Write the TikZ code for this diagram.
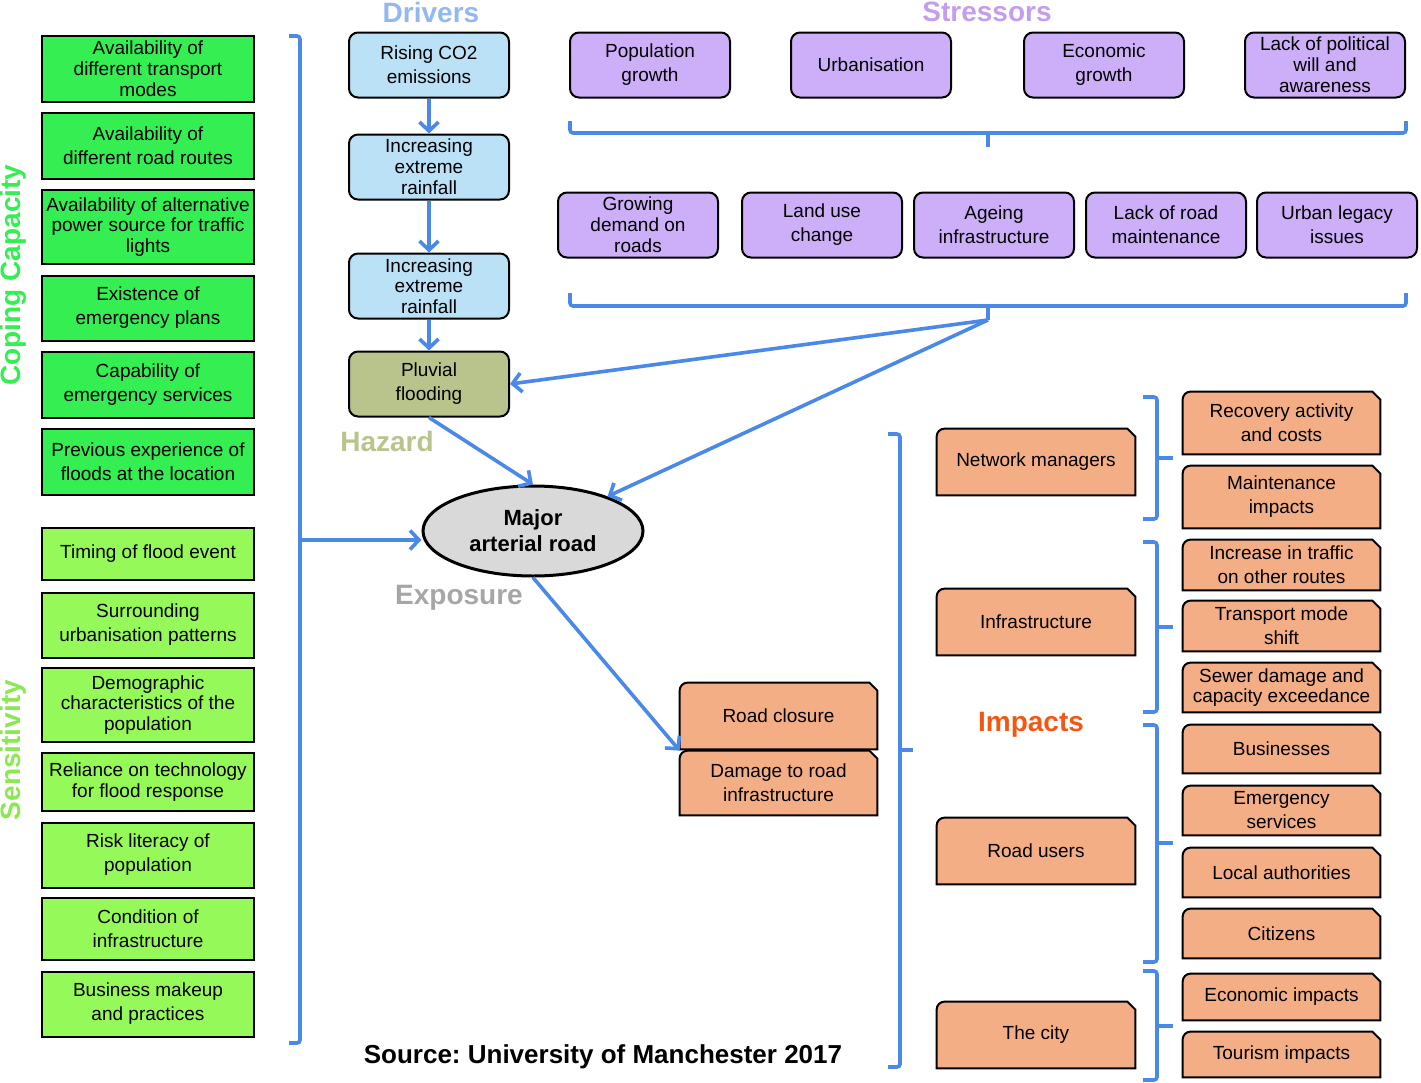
\documentclass[tikz,border=0pt]{standalone}
\usepackage{fontspec}
\setmainfont{Liberation Sans}
\usetikzlibrary{arrows.meta, shapes.geometric, backgrounds}

\definecolor{copegreen}{HTML}{35EE52}
\definecolor{sensgreen}{HTML}{96F95A}
\definecolor{drvblue}{HTML}{BBE1F7}
\definecolor{hazfill}{HTML}{B8C48C}
\definecolor{strviolet}{HTML}{CCAEF9}
\definecolor{impfill}{HTML}{F4AE85}
\definecolor{linkblue}{HTML}{4A89E8}

\begin{document}
\begin{tikzpicture}[x=0.5pt, y=-0.5pt, >={Straight Barb[length=4.5pt, width=9.5pt]},
  font=\fontsize{9.5}{12}\selectfont,
  copebox/.style={draw, line width=1pt, fill=copegreen, minimum width=106pt, align=center, inner sep=0.5pt},
  sensbox/.style={copebox, fill=sensgreen},
  drvbox/.style={draw, line width=1pt, rounded corners=4.5pt, fill=drvblue, minimum width=80pt, minimum height=32.5pt, align=center, inner sep=0.5pt},
  strbox/.style={drvbox, fill=strviolet},
  impbox/.style={minimum width=98.5pt, align=center, inner sep=0.5pt},
  impshape/.style={draw, line width=1pt, fill=impfill},
  snug/.style={font=\fontsize{9.5}{10.4}\selectfont},
  heading/.style={font=\fontsize{14}{16}\selectfont\bfseries},
  brk/.style={draw=linkblue, line width=1.8pt, rounded corners=1.5pt},
  link/.style={->, draw=linkblue, line width=1.8pt}]

\useasboundingbox (0,0) rectangle (1421,1083);

%% ===================== headings =====================
\node[heading, text=copegreen, rotate=90] (coping) at (13,275) {Coping Capacity};
\node[heading, text=sensgreen!90!black!70!sensgreen, rotate=90] (sensitivity) at (13,750) {Sensitivity};
\node[heading, text=linkblue!60] (drivers) at (431,12) {Drivers};
\node[heading, text=strviolet!90!violet] (stressors) at (987,12) {Stressors};
\node[heading, text=hazfill] (hazard) at (387,441) {Hazard};
\node[heading, text=black!35] (exposure) at (459,598) {Exposure};
\node[heading, text={rgb,255:red,240;green,88;blue,20}] (impacts) at (1031,725) {Impacts};
\node[font=\fontsize{13}{15}\selectfont\bfseries] (source) at (603,1057) {Source:\ University of Manchester 2017};

%% ===================== coping capacity =====================
\node[copebox, snug, minimum height=33pt] (modes) at (148,69) {Availability of\\different transport\\modes};
\node[copebox, minimum height=33pt] (routes) at (148,146) {Availability of\\different road routes};
\node[copebox, snug, minimum height=37pt] (power) at (148,227) {Availability of alternative\\power source for traffic\\lights};
\node[copebox, minimum height=32.5pt] (plans) at (148,308) {Existence of\\emergency plans};
\node[copebox, minimum height=33pt] (services) at (148,385) {Capability of\\emergency services};
\node[copebox, minimum height=33pt] (previous) at (148,462) {Previous experience of\\floods at the location};

%% ===================== sensitivity =====================
\node[sensbox, minimum height=26pt] (timing) at (148,554) {Timing of flood event};
\node[sensbox, minimum height=32.5pt] (urban) at (148,625) {Surrounding\\urbanisation patterns};
\node[sensbox, snug, minimum height=37pt] (demog) at (148,705) {Demographic\\characteristics of the\\population};
\node[sensbox, snug, minimum height=29pt] (reliance) at (148,782) {Reliance on technology\\for flood response};
\node[sensbox, minimum height=32.5pt] (literacy) at (148,855) {Risk literacy of\\population};
\node[sensbox, minimum height=31pt] (condition) at (148,929) {Condition of\\infrastructure};
\node[sensbox, minimum height=32.5pt] (makeup) at (148,1004) {Business makeup\\and practices};

% bracket round both lists
\draw[brk] (289,36) -- (300,36) -- (300,1043) -- (289,1043);
\coordinate (lbtip) at (300,540);

%% ===================== drivers and hazard =====================
\node[drvbox] (co2) at (429,65) {Rising CO2\\emissions};
\node[drvbox, snug] (rain1) at (429,167) {Increasing\\extreme\\rainfall};
\node[drvbox, snug] (rain2) at (429,286) {Increasing\\extreme\\rainfall};
\node[drvbox, fill=hazfill] (pluvial) at (429,384) {Pluvial\\flooding};
\draw[link] (co2) -- (rain1);
\draw[link] (rain1) -- (rain2);
\draw[link] (rain2) -- (pluvial);

%% ===================== stressors =====================
\node[strbox] (popgrowth) at (650,65) {Population\\growth};
\node[strbox] (urbanis) at (871,65) {Urbanisation};
\node[strbox] (econgrowth) at (1104,65) {Economic\\growth};
\node[strbox, snug] (political) at (1325,65) {Lack of political\\will and\\awareness};
\draw[brk] (570,121) -- (570,133) -- (1406,133) -- (1406,121);
\draw[brk] (988,133) -- (988,147);

\node[strbox, snug] (demand) at (638,225) {Growing\\demand on\\roads};
\node[strbox] (landuse) at (822,225) {Land use\\change};
\node[strbox] (ageing) at (994,225) {Ageing\\infrastructure};
\node[strbox] (lackmaint) at (1166,225) {Lack of road\\maintenance};
\node[strbox] (legacy) at (1337,225) {Urban legacy\\issues};
\draw[brk] (570,293) -- (570,306) -- (1406,306) -- (1406,293);
\draw[brk] (988,306) -- (988,320);
\coordinate (stip) at (988,320);

%% ===================== exposure =====================
\node[ellipse, draw, line width=1.5pt, fill=black!15, minimum width=110pt, minimum height=45pt, inner sep=0pt,
  align=center, font=\fontsize{11}{13}\selectfont\bfseries] (major) at (533,531) {Major\\arterial road};

\draw[link] (lbtip) -- (lbtip -| major.west);
\draw[link] (pluvial.south) -- (major.north);
\draw[link] (stip) -- (pluvial.east);
\draw[link] (stip) -- (major);

%% ===================== impacts =====================
\node[impbox, minimum height=33pt] (closure) at (778.5,716) {Road closure};
\node[impbox, minimum height=32pt] (damage) at (778.5,783) {Damage to road\\infrastructure};
\draw[link] (major.south) -- (damage.north west);

\node[impbox, minimum width=99pt, minimum height=33pt] (netman) at (1036,462) {Network managers};
\node[impbox, minimum width=99pt, minimum height=33pt] (infra) at (1036,622) {Infrastructure};
\node[impbox, minimum width=99pt, minimum height=33pt] (roadusers) at (1036,851) {Road users};
\node[impbox, minimum width=99pt, minimum height=33pt] (city) at (1036,1035) {The city};

\node[impbox, minimum height=31pt] (recovery) at (1281.5,423) {Recovery activity\\and costs};
\node[impbox, minimum height=31pt] (maint) at (1281.5,497) {Maintenance\\impacts};
\node[impbox, minimum height=25pt] (traffic) at (1281.5,565) {Increase in traffic\\on other routes};
\node[impbox, minimum height=25pt] (modeshift) at (1281.5,626) {Transport mode\\shift};
\node[impbox, snug, minimum height=24.5pt] (sewer) at (1281.5,687.5) {Sewer damage and\\capacity exceedance};
\node[impbox, minimum height=24pt] (business) at (1281.5,749) {Businesses};
\node[impbox, minimum height=24.5pt] (emergency) at (1281.5,810.5) {Emergency\\services};
\node[impbox, minimum height=24.5pt] (localauth) at (1281.5,872.5) {Local authorities};
\node[impbox, minimum height=24.5pt] (citizens) at (1281.5,933.5) {Citizens};
\node[impbox, minimum height=23pt] (econimp) at (1281.5,997) {Economic impacts};
\node[impbox, minimum height=22.5pt] (tourism) at (1281.5,1054.5) {Tourism impacts};

% snipped boxes behind the texts
\begin{scope}[on background layer]
\foreach \n in {closure, damage, netman, infra, roadusers, city, recovery, maint, traffic, modeshift,
  sewer, business, emergency, localauth, citizens, econimp, tourism}
  \draw[impshape] (\n.south west) -- ([yshift=-4pt]\n.north west)
    arc[start angle=180, end angle=90, radius=4pt] -- ([xshift=-4pt]\n.north east)
    -- ([yshift=-4pt]\n.north east) -- (\n.south east) -- cycle;
\end{scope}

% brackets
\draw[brk] (888,434) -- (900,434) -- (900,1067) -- (888,1067);
\draw[brk] (900,750) -- (913,750);
\foreach \top/\mid/\bot in {397/458/519, 542/627/712, 725/843/962, 971/1026/1080}{
  \draw[brk] (1143,\top) -- (1157,\top) -- (1157,\bot) -- (1143,\bot);
  \draw[brk] (1157,\mid) -- (1173,\mid);
}

\end{tikzpicture}
\end{document}
